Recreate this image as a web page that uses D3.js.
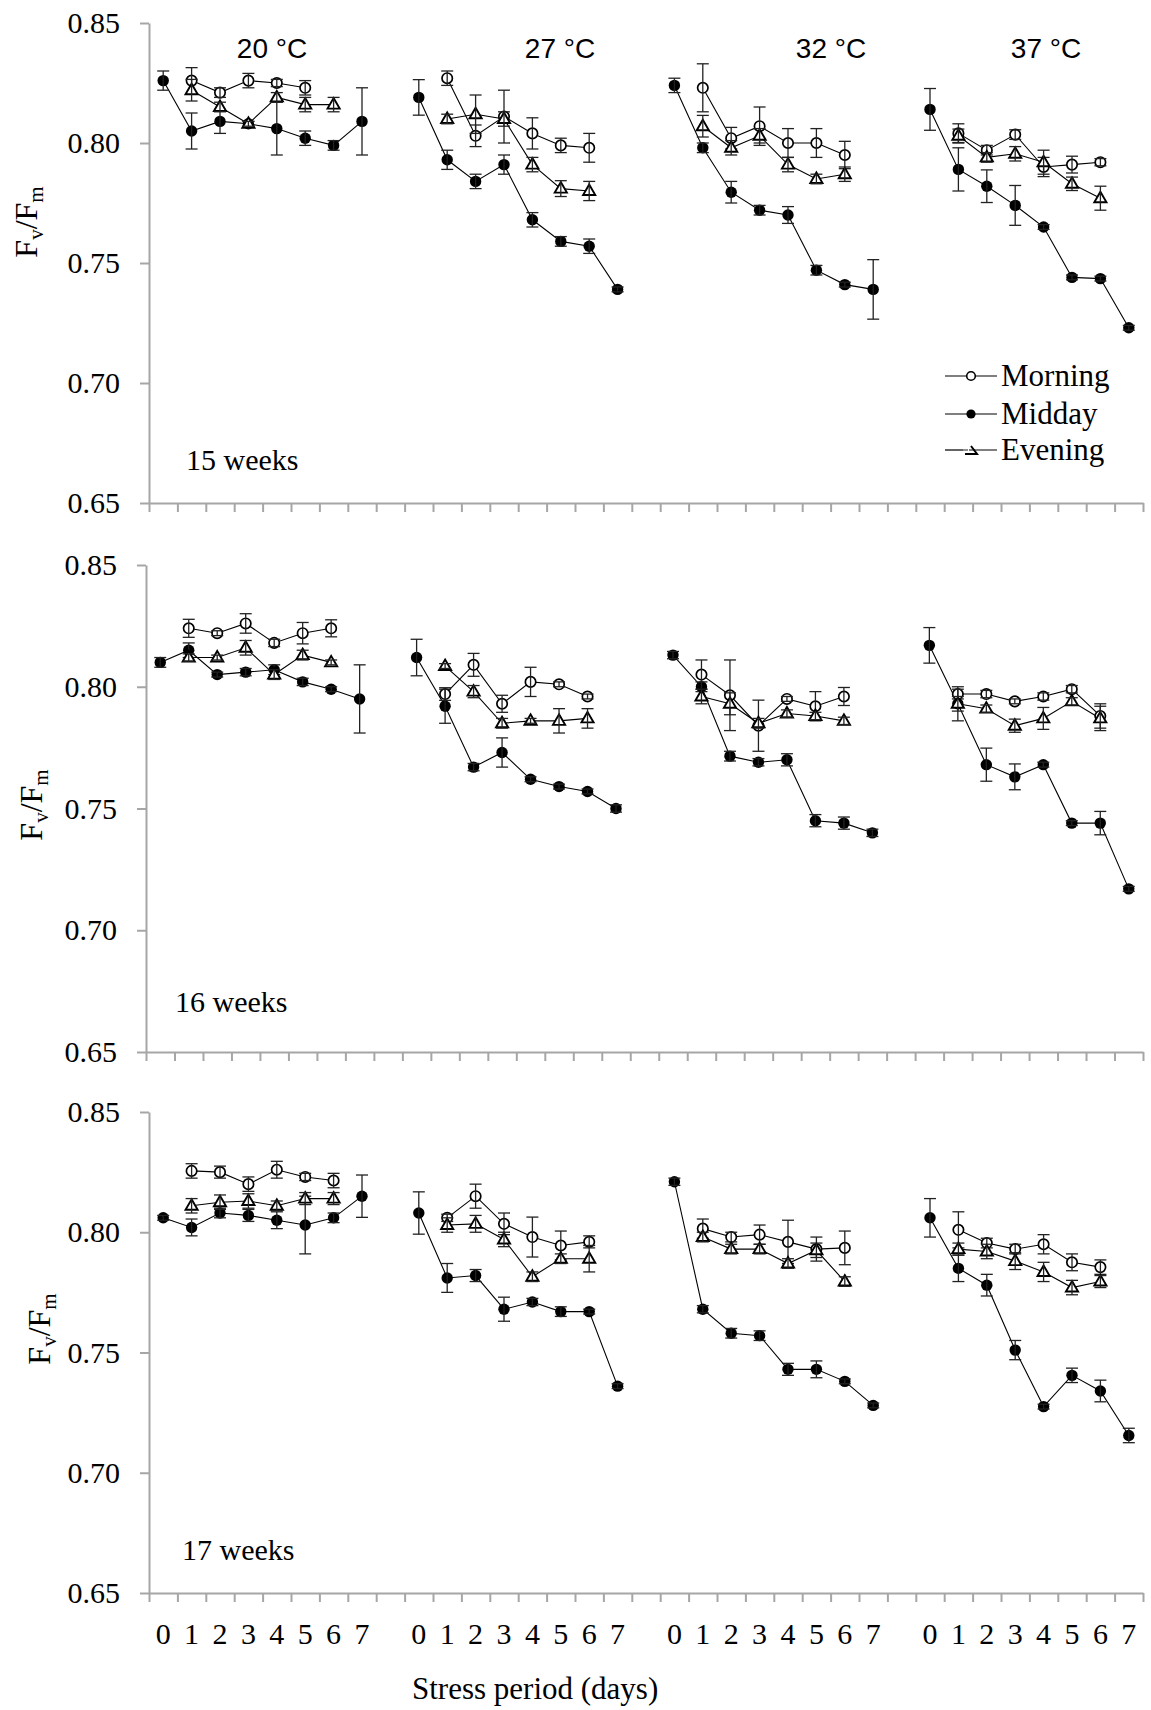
<!DOCTYPE html>
<html><head><meta charset="utf-8">
<script src="https://cdn.jsdelivr.net/npm/d3@7"></script>
<style>body{margin:0;background:#fff} svg{display:block}</style>
</head><body><div id="chart"></div>
<script>
// ---------------- DATA ----------------
const days = [0,1,2,3,4,5,6,7];
const temps = ["20 °C","27 °C","32 °C","37 °C"];
const weeks = ["15 weeks","16 weeks","17 weeks"];
const seriesNames = ["Morning","Midday","Evening"];
const yTicks = [0.65,0.70,0.75,0.80,0.85];
const xTitle = "Stress period (days)";

// 15 weeks (rows = temperatures, columns = days 0..7)
const morning15 = [
 [null,0.826,0.821,0.826,0.825,0.823,null,null],
 [null,0.827,0.803,0.811,0.804,0.799,0.798,null],
 [null,0.823,0.802,0.807,0.800,0.800,0.795,null],
 [null,0.804,0.797,0.8035,0.790,0.791,0.792,null]];
const morningErr15 = [
 [null,0.0054,0.002,0.003,0.0015,0.003,null,null],
 [null,0.003,0.0045,0.011,0.0065,0.003,0.006,null],
 [null,0.010,0.0045,0.008,0.006,0.006,0.0057,null],
 [null,0.004,0.002,0.002,0.004,0.0035,0.0015,null]];
const midday15 = [
 [0.826,0.805,0.809,0.808,0.806,0.802,0.799,0.809],
 [0.819,0.793,0.784,0.791,0.768,0.759,0.757,0.739],
 [0.824,0.798,0.7795,0.772,0.770,0.747,0.741,0.739],
 [0.814,0.789,0.782,0.774,0.765,0.744,0.7435,0.723]];
const middayErr15 = [
 [0.004,0.0075,0.005,0.001,0.011,0.003,0.002,0.014],
 [0.0074,0.004,0.003,0.004,0.003,0.002,0.003,0.001],
 [0.003,0.002,0.0045,0.002,0.0035,0.002,0.001,0.0124],
 [0.0087,0.009,0.0068,0.0083,0.001,0.001,0.001,0.001]];
const evening15 = [
 [null,0.822,0.815,0.808,0.819,0.816,0.816,null],
 [null,0.810,0.812,0.810,0.791,0.781,0.780,null],
 [null,0.807,0.798,0.803,0.791,0.785,0.787,null],
 [null,0.803,0.794,0.7955,0.792,0.783,0.777,null]];
const eveningErr15 = [
 [null,0.0045,0.002,0.001,0.002,0.003,0.003,null],
 [null,0.002,0.008,0.003,0.003,0.0033,0.004,null],
 [null,0.0045,0.003,0.003,0.003,0.002,0.003,null],
 [null,0.0028,0.002,0.003,0.005,0.0028,0.005,null]];

// 16 weeks
const morning16 = [
 [null,0.824,0.822,0.826,0.818,0.822,0.824,null],
 [null,0.797,0.809,0.793,0.802,0.801,0.796,null],
 [null,0.805,0.7965,0.784,0.795,0.792,0.796,null],
 [null,0.797,0.797,0.794,0.796,0.799,0.788,null]];
const morningErr16 = [
 [null,0.0037,0.001,0.004,0.0015,0.0044,0.0035,null],
 [null,0.0026,0.0047,0.0035,0.006,0.001,0.001,null],
 [null,0.006,0.0145,0.0105,0.001,0.006,0.0037,null],
 [null,0.002,0.0015,0.001,0.0015,0.0015,0.005,null]];
const midday16 = [
 [0.810,0.815,0.805,0.806,0.807,0.802,0.799,0.795],
 [0.812,0.792,0.767,0.773,0.762,0.759,0.757,0.750],
 [0.813,0.800,0.7715,0.769,0.770,0.745,0.744,0.740],
 [0.817,0.793,0.768,0.763,0.768,0.744,0.744,0.717]];
const middayErr16 = [
 [0.002,0.003,0.001,0.0015,0.002,0.0015,0.001,0.014],
 [0.0075,0.007,0.0015,0.006,0.001,0.001,0.001,0.0015],
 [0.0015,0.002,0.002,0.0015,0.0025,0.0025,0.0025,0.0015],
 [0.0073,0.007,0.0068,0.0053,0.001,0.001,0.0048,0.001]];
const evening16 = [
 [null,0.812,0.812,0.816,0.805,0.813,0.810,null],
 [null,0.8085,0.798,0.785,0.786,0.786,0.787,null],
 [null,0.796,0.793,0.785,0.789,0.788,0.786,null],
 [null,0.793,0.791,0.784,0.787,0.794,0.787,null]];
const eveningErr16 = [
 [null,0.0015,0.001,0.003,0.002,0.002,0.001,null],
 [null,0.001,0.0025,0.002,0.001,0.005,0.004,null],
 [null,0.003,0.0045,0.002,0.0015,0.0015,0.0015,null],
 [null,0.003,0.0015,0.0027,0.0045,0.0015,0.005,null]];

// 17 weeks
const morning17 = [
 [null,0.8255,0.825,0.820,0.826,0.823,0.8215,null],
 [null,0.806,0.815,0.8035,0.798,0.7945,0.796,null],
 [null,0.8015,0.798,0.799,0.796,0.793,0.7935,null],
 [null,0.801,0.7955,0.793,0.795,0.7875,0.7855,null]];
const morningErr17 = [
 [null,0.003,0.0025,0.003,0.0035,0.0015,0.003,null],
 [null,0.0015,0.005,0.0045,0.0083,0.006,0.0025,null],
 [null,0.004,0.002,0.004,0.009,0.005,0.007,null],
 [null,0.0075,0.002,0.002,0.004,0.0035,0.003,null]];
const midday17 = [
 [0.806,0.802,0.808,0.807,0.805,0.803,0.806,0.815],
 [0.808,0.781,0.782,0.768,0.771,0.767,0.767,0.736],
 [0.821,0.768,0.758,0.757,0.743,0.743,0.738,0.728],
 [0.806,0.785,0.778,0.751,0.7275,0.7405,0.734,0.7155]];
const middayErr17 = [
 [0.001,0.0035,0.002,0.0025,0.0035,0.012,0.002,0.0088],
 [0.0088,0.006,0.0025,0.005,0.0015,0.002,0.001,0.001],
 [0.0015,0.0015,0.002,0.002,0.0025,0.0035,0.001,0.001],
 [0.008,0.0055,0.0045,0.004,0.001,0.003,0.0045,0.003]];
const evening17 = [
 [null,0.811,0.8125,0.813,0.811,0.814,0.814,null],
 [null,0.803,0.8035,0.797,0.7815,0.789,0.789,null],
 [null,0.798,0.793,0.793,0.787,0.7925,0.7795,null],
 [null,0.793,0.792,0.788,0.7835,0.777,0.7795,null]];
const eveningErr17 = [
 [null,0.003,0.003,0.003,0.002,0.0025,0.0025,null],
 [null,0.003,0.0035,0.003,0.002,0.002,0.0055,null],
 [null,0.002,0.002,0.002,0.002,0.003,0.002,null],
 [null,0.0025,0.003,0.0035,0.004,0.003,0.0025,null]];

// ---------------- DRAWING ----------------
const W = 1151, H = 1710;
const SERIF = "'Liberation Serif','Times New Roman',serif";
const SANS = "'Liberation Sans',Arial,sans-serif";
const AXIS_COL = "#a6a6a6";

const svg = d3.select("#chart").append("svg")
  .attr("width", W).attr("height", H).attr("viewBox", `0 0 ${W} ${H}`)
  .style("background", "#fff");

// categories: 0..7 per temperature, blank slot between groups
const cats = [];
temps.forEach((t, ti) => {
  days.forEach(d => cats.push(ti + "-" + d));
  if (ti < temps.length - 1) cats.push("gap" + ti);
});

const panelData = [
  {morning: morning15, mErr: morningErr15, midday: midday15, dErr: middayErr15, evening: evening15, eErr: eveningErr15},
  {morning: morning16, mErr: morningErr16, midday: midday16, dErr: middayErr16, evening: evening16, eErr: eveningErr16},
  {morning: morning17, mErr: morningErr17, midday: midday17, dErr: middayErr17, evening: evening17, eErr: eveningErr17}
];

const layout = [
  {left:149, top:23,   bottom:503,  ylx:37, yly:222,  wlx:186, wly:459},
  {left:146, top:565,  bottom:1052, ylx:42, yly:805,  wlx:175, wly:1001},
  {left:149, top:1112, bottom:1593, ylx:50, yly:1329, wlx:182, wly:1549}
];
const RIGHT = 1143;
const tempLabelPos = [[272,48],[560,48],[831,48],[1046,48]];

const triPath = d3.symbol().type(d3.symbolTriangle).size(64)();

function styleAxis(sel){
  sel.attr("font-family", null).attr("font-size", null);
  sel.selectAll("path.domain").attr("stroke", AXIS_COL).attr("stroke-width", 2);
  sel.selectAll(".tick line").attr("stroke", AXIS_COL).attr("stroke-width", 2);
}
function serifText(sel, size){
  sel.attr("font-family", SERIF).attr("font-size", size)
     .style("font-family", SERIF).style("font-size", size + "px").attr("fill", "#000");
}

panelData.forEach((P, pi) => {
  const L = layout[pi];
  const x = d3.scaleBand().domain(cats).range([L.left, RIGHT]);
  const xb = d3.scaleLinear().domain([0, cats.length]).range([L.left, RIGHT]);
  const y = d3.scaleLinear().domain([yTicks[0], yTicks[yTicks.length-1]]).range([L.bottom, L.top]);
  const g = svg.append("g");

  // Y axis
  const ya = g.append("g").attr("transform", `translate(${L.left},0)`)
    .call(d3.axisLeft(y).tickValues(yTicks).tickFormat(d3.format(".2f"))
      .tickSize(9).tickPadding(20).tickSizeOuter(0));
  styleAxis(ya);
  serifText(ya.selectAll("text"), 30);

  // X axis (tick marks between categories)
  const xa = g.append("g").attr("transform", `translate(0,${L.bottom})`)
    .call(d3.axisBottom(xb).tickValues(d3.range(cats.length + 1)).tickFormat("")
      .tickSize(9).tickSizeOuter(0));
  styleAxis(xa);

  // day labels only on bottom panel
  if (pi === panelData.length - 1) {
    const xl = g.append("g").attr("transform", `translate(0,${L.bottom})`)
      .call(d3.axisBottom(x).tickValues(cats.filter(c => !c.startsWith("gap")))
        .tickFormat(c => c.split("-")[1]).tickSize(0).tickPadding(30));
    xl.attr("font-family", null).attr("font-size", null);
    xl.select("path.domain").remove();
    serifText(xl.selectAll("text"), 30);
  }

  const series = [
    {name: "Morning", vals: P.morning, errs: P.mErr, kind: "open"},
    {name: "Midday",  vals: P.midday,  errs: P.dErr, kind: "filled"},
    {name: "Evening", vals: P.evening, errs: P.eErr, kind: "tri"}
  ];

  const pointsOf = s => s.vals.map((arr, ti) =>
    days.map((d, di) => ({c: ti + "-" + d, v: arr[di], e: s.errs[ti][di]})).filter(o => o.v != null));

  const line = d3.line().x(o => x(o.c) + x.bandwidth()/2).y(o => y(o.v));

  // connecting lines
  const lg = g.append("g");
  series.forEach(s => {
    pointsOf(s).forEach(grp => {
      lg.append("path").attr("d", line(grp)).attr("fill", "none")
        .attr("stroke", "#000").attr("stroke-width", 1.1);
    });
  });

  // markers + error bars
  series.forEach(s => {
    const pts = pointsOf(s).flat();
    const mg = g.append("g");
    const cx = o => x(o.c) + x.bandwidth()/2;
    if (s.kind === "open") {
      mg.selectAll("circle").data(pts).join("circle")
        .attr("cx", cx).attr("cy", o => y(o.v)).attr("r", 5.2)
        .attr("fill", "#fff").attr("stroke", "#000").attr("stroke-width", 1.7);
    } else if (s.kind === "filled") {
      mg.selectAll("circle").data(pts).join("circle")
        .attr("cx", cx).attr("cy", o => y(o.v)).attr("r", 5.7)
        .attr("fill", "#000");
    } else {
      mg.selectAll("path").data(pts).join("path")
        .attr("d", triPath)
        .attr("transform", o => `translate(${cx(o)},${y(o.v) + 0.5})`)
        .attr("fill", "#fff").attr("stroke", "#000").attr("stroke-width", 1.9);
    }
    const eg = g.append("g").attr("stroke", "#222").attr("stroke-width", 1.3);
    pts.forEach(o => {
      const X = cx(o), y1 = y(o.v + o.e), y2 = y(o.v - o.e);
      eg.append("line").attr("x1", X).attr("x2", X).attr("y1", y1).attr("y2", y2);
      eg.append("line").attr("x1", X - 6).attr("x2", X + 6).attr("y1", y1).attr("y2", y1);
      eg.append("line").attr("x1", X - 6).attr("x2", X + 6).attr("y1", y2).attr("y2", y2);
    });
  });

  // Y axis title Fv/Fm
  const yt = g.append("text")
    .attr("transform", `translate(${L.ylx},${L.yly}) rotate(-90)`)
    .attr("text-anchor", "middle").attr("font-family", SERIF).attr("font-size", 32).attr("fill", "#000");
  yt.append("tspan").text("F");
  yt.append("tspan").text("v").attr("font-size", 21).attr("baseline-shift", "-28%");
  yt.append("tspan").text("/F");
  yt.append("tspan").text("m").attr("font-size", 21).attr("baseline-shift", "-28%");

  // week label
  g.append("text").attr("x", L.wlx).attr("y", L.wly).attr("dy", "0.35em")
    .attr("font-family", SERIF).attr("font-size", 30).attr("fill", "#000").text(weeks[pi]);

  // temperature labels on first panel
  if (pi === 0) {
    temps.forEach((t, ti) => {
      g.append("text").attr("x", tempLabelPos[ti][0]).attr("y", tempLabelPos[ti][1]).attr("dy", "0.36em")
        .attr("text-anchor", "middle").attr("font-family", SANS).attr("font-size", 28)
        .attr("fill", "#000").text(t);
    });
  }
});

// Legend (inside first panel)
const legRows = [376, 414, 450];
const leg = svg.append("g");
seriesNames.forEach((n, i) => {
  const yy = legRows[i];
  leg.append("line").attr("x1", 945).attr("x2", 997).attr("y1", yy).attr("y2", yy)
    .attr("stroke", "#555").attr("stroke-width", 1.3);
  if (i === 0) {
    leg.append("circle").attr("cx", 971).attr("cy", yy).attr("r", 4.3)
      .attr("fill", "#fff").attr("stroke", "#000").attr("stroke-width", 1.6);
  } else if (i === 1) {
    leg.append("circle").attr("cx", 971).attr("cy", yy).attr("r", 4.6).attr("fill", "#000");
  } else {
    leg.append("path").attr("d", `M${965},${yy+4} L${977},${yy+4} L${971},${yy-4}`)
      .attr("fill", "none").attr("stroke", "#000").attr("stroke-width", 2);
    leg.append("rect").attr("x", 963).attr("y", yy-6).attr("width", 6).attr("height", 8).attr("fill","#fff");
    leg.append("line").attr("x1", 945).attr("x2", 968).attr("y1", yy).attr("y2", yy)
      .attr("stroke", "#555").attr("stroke-width", 1.3);
  }
  leg.append("text").attr("x", 1001).attr("y", yy).attr("dy", "0.33em")
    .attr("font-family", SERIF).attr("font-size", 31).attr("fill", "#000").text(n);
});

// X axis title
svg.append("text").attr("x", 412).attr("y", 1689).attr("dy", "0.33em")
  .attr("font-family", SERIF).attr("font-size", 31).attr("fill", "#000").text(xTitle);
</script>
</body></html>
